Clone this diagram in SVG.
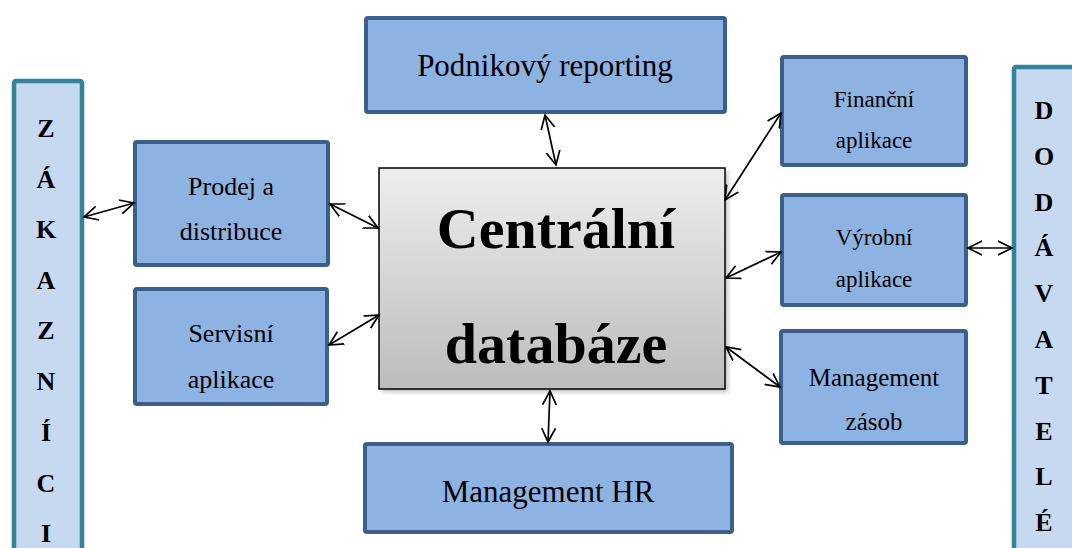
<svg xmlns="http://www.w3.org/2000/svg" width="1072" height="548" viewBox="0 0 1072 548">
<style>
.box{fill:#8DB3E2;stroke:#3A5F8B;stroke-width:4}
.bar{fill:#C6D9F1;stroke:#31849B;stroke-width:4.5}
.t{font-family:"Liberation Serif","Times New Roman",serif;fill:#000;text-anchor:middle}
.b{font-weight:bold}
.c{stroke:#000;stroke-width:1.7;fill:none;marker-start:url(#ah);marker-end:url(#ah)}
</style>
<defs>
<marker id="ah" markerUnits="userSpaceOnUse" markerWidth="18" markerHeight="18" refX="14" refY="8" orient="auto-start-reverse" viewBox="0 0 18 18">
<path d="M0,1 L14,8 L0,15" fill="none" stroke="#000" stroke-width="1.7"/>
</marker>
<linearGradient id="g" x1="0" y1="0" x2="0" y2="1">
<stop offset="0" stop-color="#EEEEEE"/>
<stop offset="1" stop-color="#BCBCBC"/>
</linearGradient>
<filter id="sh" x="-10%" y="-10%" width="120%" height="120%">
<feGaussianBlur stdDeviation="2"/>
</filter>
</defs>
<rect width="1072" height="548" fill="#FFFFFF"/>

<g id="zakaznici">
<rect class="bar" x="14" y="81" width="68" height="500" rx="2"/>
<g class="t b" font-size="26">
<text x="46" y="137">Z</text>
<text x="46" y="188">Á</text>
<text x="46" y="238">K</text>
<text x="46" y="289">A</text>
<text x="46" y="339">Z</text>
<text x="46" y="390">N</text>
<text x="46" y="441">Í</text>
<text x="46" y="492">C</text>
<text x="46" y="542">I</text>
</g>
</g>

<g id="dodavatele">
<rect class="bar" x="1014" y="67" width="68" height="500" rx="2"/>
<g class="t b" font-size="26">
<text x="1044" y="119">D</text>
<text x="1044" y="165">O</text>
<text x="1044" y="211">D</text>
<text x="1044" y="256">Á</text>
<text x="1044" y="302">V</text>
<text x="1044" y="348">A</text>
<text x="1044" y="394">T</text>
<text x="1044" y="440">E</text>
<text x="1044" y="485">L</text>
<text x="1044" y="531">É</text>
</g>
</g>

<g id="centralni">
<rect x="382" y="171" width="346" height="221" fill="#7F7F7F" opacity="0.5" filter="url(#sh)"/>
<rect x="379" y="168" width="346" height="221" fill="url(#g)" stroke="#000" stroke-width="1.5"/>
<text class="t b" x="556" y="248" font-size="58">Centrální</text>
<text class="t b" x="556" y="363" font-size="58">databáze</text>
</g>

<g id="podnikovy">
<rect class="box" x="366" y="18" width="359" height="94" rx="2"/>
<text class="t" x="545" y="76" font-size="31">Podnikový reporting</text>
</g>

<g id="prodej">
<rect class="box" x="135" y="142" width="193" height="123" rx="2"/>
<text class="t" x="231" y="195" font-size="26">Prodej a</text>
<text class="t" x="231" y="240" font-size="26">distribuce</text>
</g>

<g id="servisni">
<rect class="box" x="135" y="289" width="192" height="115" rx="2"/>
<text class="t" x="231" y="342" font-size="26">Servisní</text>
<text class="t" x="231" y="388" font-size="26">aplikace</text>
</g>

<g id="hr">
<rect class="box" x="365" y="444" width="367" height="88" rx="2"/>
<text class="t" x="548" y="502" font-size="31">Management HR</text>
</g>

<g id="financni">
<rect class="box" x="782" y="57" width="184" height="108" rx="2"/>
<text class="t" x="874" y="107" font-size="23">Finanční</text>
<text class="t" x="874" y="148" font-size="23">aplikace</text>
</g>

<g id="vyrobni">
<rect class="box" x="782" y="195" width="184" height="110" rx="2"/>
<text class="t" x="874" y="245" font-size="23">Výrobní</text>
<text class="t" x="874" y="287" font-size="23">aplikace</text>
</g>

<g id="zasoby">
<rect class="box" x="781" y="331" width="185" height="112" rx="2"/>
<text class="t" x="874" y="386" font-size="25">Management</text>
<text class="t" x="874" y="430" font-size="25">zásob</text>
</g>

<g id="connectors">
<line class="c" x1="84" y1="217" x2="134" y2="203"/>
<line class="c" x1="330" y1="204" x2="378" y2="228"/>
<line class="c" x1="329" y1="345" x2="379" y2="315"/>
<line class="c" x1="545" y1="115" x2="556" y2="165"/>
<line class="c" x1="550" y1="391" x2="548" y2="442"/>
<line class="c" x1="725" y1="200" x2="781" y2="113"/>
<line class="c" x1="726" y1="278" x2="781" y2="252"/>
<line class="c" x1="726" y1="347" x2="780" y2="387"/>
<line class="c" x1="968" y1="248" x2="1012" y2="248"/>
</g>
</svg>
